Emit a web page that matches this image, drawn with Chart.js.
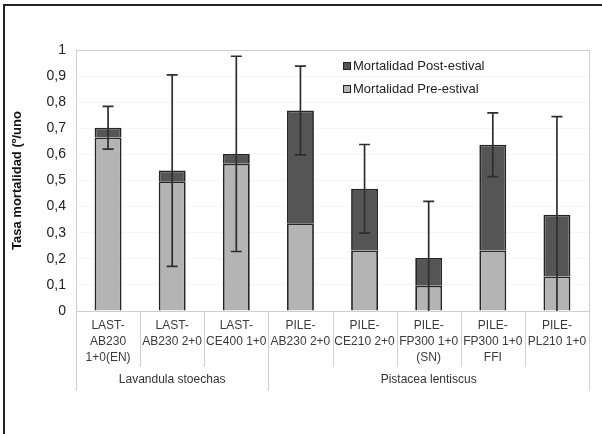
<!DOCTYPE html>
<html>
<head>
<meta charset="utf-8">
<script src="https://cdn.jsdelivr.net/npm/chart.js@4/dist/chart.umd.min.js"></script>
<style>
  html,body{margin:0;padding:0;background:#fff;}
  #wrap{width:602px;height:434px;position:relative;}
</style>
</head>
<body>
<div id="wrap"><canvas id="c" width="602" height="434"></canvas></div>
<script>
const categories = [
  ["LAST-","AB230","1+0(EN)"],
  ["LAST-","AB230 2+0"],
  ["LAST-","CE400 1+0"],
  ["PILE-","AB230 2+0"],
  ["PILE-","CE210 2+0"],
  ["PILE-","FP300 1+0","(SN)"],
  ["PILE-","FP300 1+0","FFI"],
  ["PILE-","PL210 1+0"]
];
const groupNames = ["Lavandula stoechas","Pistacea lentiscus"];
const groupSizes = [3,5];
const preEstival  = [0.665,0.497,0.564,0.336,0.232,0.097,0.232,0.132];
const postEstival = [0.037,0.041,0.038,0.432,0.236,0.106,0.405,0.237];
const errorValues = [0.082,0.367,0.374,0.170,0.170,0.217,0.122,0.376];
const yTickLabels = ["0","0,1","0,2","0,3","0,4","0,5","0,6","0,7","0,8","0,9","1"];
const seriesNames = ["Mortalidad Pre-estival","Mortalidad Post-estival"];

const FONT = "'Liberation Sans', Arial, sans-serif";
const DARK = '#555555', LIGHT = '#b4b4b4', FRAME = '#cfcfcf';

const extras = {
  id:'extras',
  beforeDraw(chart){
    const ctx = chart.ctx;
    ctx.save();
    ctx.fillStyle = '#fff';
    ctx.fillRect(0,0,chart.width,chart.height);
    ctx.strokeStyle = '#222';
    ctx.lineWidth = 2;
    ctx.beginPath();
    ctx.moveTo(4,chart.height); ctx.lineTo(4,5); ctx.lineTo(chart.width,5);
    ctx.stroke();
    ctx.restore();
  },
  afterDatasetsDraw(chart){
    const ctx = chart.ctx, xs = chart.scales.x, ys = chart.scales.y;
    ctx.save();
    ctx.strokeStyle = '#2e2e2e';
    ctx.lineWidth = 1.7;
    for(let i=0;i<categories.length;i++){
      const tot = preEstival[i]+postEstival[i];
      const x = xs.getPixelForValue(i);
      const yt = ys.getPixelForValue(tot+errorValues[i]);
      const yb = ys.getPixelForValue(Math.max(0,tot-errorValues[i]));
      ctx.beginPath();
      ctx.moveTo(x,yt); ctx.lineTo(x,yb);
      ctx.moveTo(x-5.5,yt); ctx.lineTo(x+5.5,yt);
      if(tot-errorValues[i] > 0){ ctx.moveTo(x-5.5,yb); ctx.lineTo(x+5.5,yb); }
      ctx.stroke();
    }
    ctx.restore();
  },
  afterDraw(chart){
    const ctx = chart.ctx, xs = chart.scales.x, a = chart.chartArea;
    const n = categories.length;
    const bnd = i => i===0 ? a.left : (i===n ? a.right : (xs.getPixelForValue(i-1)+xs.getPixelForValue(i))/2);
    ctx.save();
    ctx.strokeStyle = FRAME; ctx.lineWidth = 1;
    ctx.beginPath();
    ctx.moveTo(a.left, a.top+0.5); ctx.lineTo(a.right+0.5, a.top+0.5); ctx.lineTo(a.right+0.5, a.bottom);
    ctx.stroke();
    const groupEdges = [0];
    groupSizes.forEach(s=>groupEdges.push(groupEdges[groupEdges.length-1]+s));
    for(let i=0;i<=n;i++){
      const x = Math.round(bnd(i))+0.5;
      const long = groupEdges.includes(i);
      ctx.beginPath();
      ctx.moveTo(x,a.bottom); ctx.lineTo(x, long ? 391 : 367);
      ctx.stroke();
    }
    ctx.fillStyle = '#333';
    ctx.font = '12px ' + FONT;
    ctx.textAlign = 'center'; ctx.textBaseline = 'middle';
    for(let g=0; g<groupNames.length; g++){
      const x = (bnd(groupEdges[g]) + bnd(groupEdges[g+1]))/2;
      ctx.fillText(groupNames[g], x, 380);
    }
    const items = [[seriesNames[1], DARK],[seriesNames[0], LIGHT]];
    ctx.font = '13px ' + FONT;
    ctx.textAlign = 'left';
    items.forEach((it,k)=>{
      const y = 66 + k*23;
      ctx.fillStyle = it[1];
      ctx.fillRect(343.5, y-3.5, 7, 7);
      ctx.strokeStyle = '#222'; ctx.lineWidth = 1;
      ctx.strokeRect(343.5, y-3.5, 7, 7);
      ctx.fillStyle = '#222';
      ctx.fillText(it[0], 353, y);
    });
    ctx.restore();
  }
};

new Chart(document.getElementById('c'), {
  type:'bar',
  data:{
    labels: categories,
    datasets:[
      {label:seriesNames[0], data:preEstival, backgroundColor:LIGHT, borderColor:'#262626', borderWidth:1.8, barPercentage:0.42, categoryPercentage:1},
      {label:seriesNames[1], data:postEstival, backgroundColor:DARK, borderColor:'#262626', borderWidth:1.8, barPercentage:0.42, categoryPercentage:1}
    ]
  },
  options:{
    responsive:false,
    animation:false,
    devicePixelRatio:1,
    layout:{padding:{left:6, top:50, right:13, bottom:0}},
    plugins:{legend:{display:false}, tooltip:{enabled:false}},
    scales:{
      x:{
        stacked:true,
        grid:{display:false, drawTicks:false},
        border:{display:true, color:FRAME},
        ticks:{font:{family:FONT, size:12, lineHeight:1.33}, color:'#3a3a3a', padding:7, maxRotation:0, autoSkip:false},
        afterFit(s){ s.height = 123; }
      },
      y:{
        stacked:true,
        min:0, max:1,
        grid:{color:(c)=> c.tick && c.tick.value===1 ? FRAME : 'rgba(0,0,0,0.035)', drawTicks:false},
        border:{display:true, color:FRAME},
        ticks:{stepSize:0.1, font:{family:FONT, size:14}, color:'#222', padding:10,
               callback:(v,i)=>yTickLabels[i]},
        title:{display:true, text:'Tasa mortalidad (º/uno', font:{family:FONT, size:13, weight:'bold'}, color:'#111', padding:{top:4,bottom:0}},
        afterFit(s){ s.width = 70; }
      }
    }
  },
  plugins:[extras]
});
</script>
</body>
</html>
